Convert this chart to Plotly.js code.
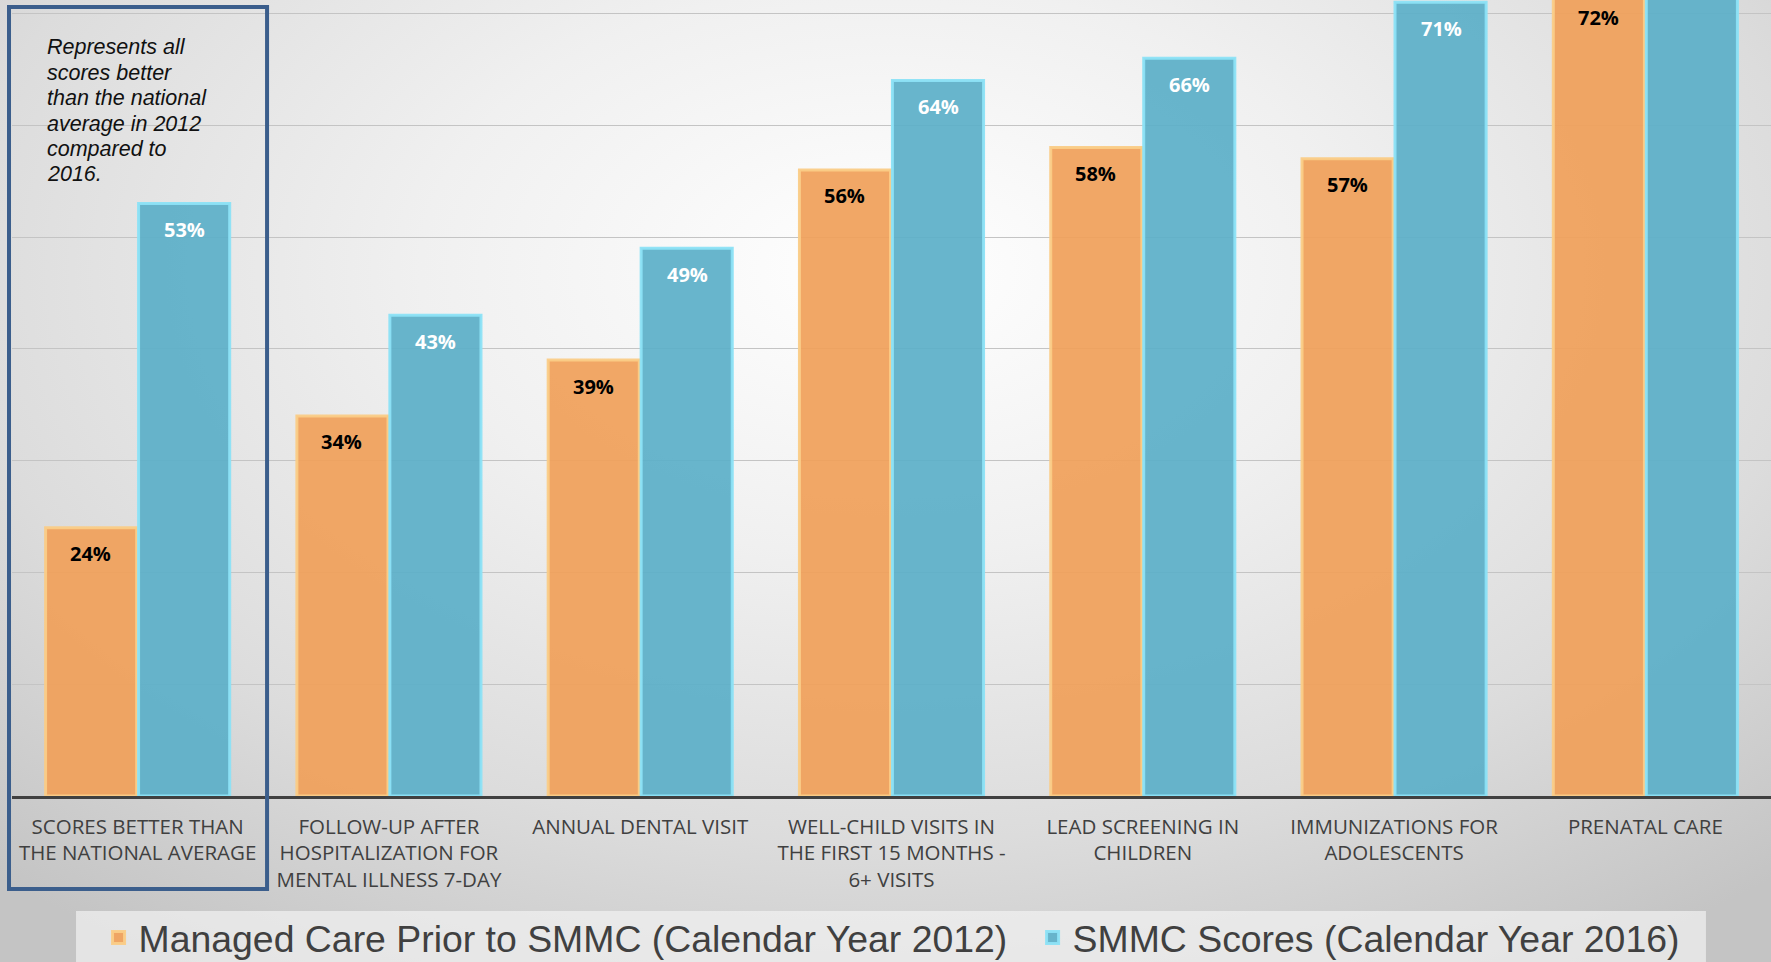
<!DOCTYPE html>
<html>
<head>
<meta charset="utf-8">
<script src="https://cdn.plot.ly/plotly-3.0.1.min.js"></script>
<style>
  html, body { margin: 0; padding: 0; }
  body {
    width: 1771px; height: 962px; overflow: hidden; position: relative;
    background: radial-gradient(ellipse 75% 85% at 50% 28%, #ffffff 0%, #f0f0f0 35%, #dcdcdc 70%, #c4c4c4 100%);
  }
  #chart { position: absolute; left: 0; top: -40px; width: 1771px; height: 1002px; }
</style>
</head>
<body>
<div id="chart"></div>
<script>
const categories = [
  "Scores better than the national average",
  "Follow-up after hospitalization for mental illness 7-day",
  "Annual dental visit",
  "Well-child visits in the first 15 months - 6+ visits",
  "Lead screening in children",
  "Immunizations for adolescents",
  "Prenatal care"
];
const tickLabels = [
  "SCORES BETTER THAN<br>THE NATIONAL AVERAGE",
  "FOLLOW-UP AFTER<br>HOSPITALIZATION FOR<br>MENTAL ILLNESS 7-DAY",
  "ANNUAL DENTAL VISIT",
  "WELL-CHILD VISITS IN<br>THE FIRST 15 MONTHS -<br>6+ VISITS",
  "LEAD SCREENING IN<br>CHILDREN",
  "IMMUNIZATIONS FOR<br>ADOLESCENTS",
  "PRENATAL CARE"
];
const series2012Name = "Managed Care Prior to SMMC (Calendar Year 2012)";
const series2016Name = "SMMC Scores (Calendar Year 2016)";
const values2012 = [24, 34, 39, 56, 58, 57, 72];
const values2016 = [53, 43, 49, 64, 66, 71, 80];
const noteLines = ["Represents all", "scores better", "than the national", "average in 2012", "compared to", "2016."];

const orange = "rgba(240,160,90,0.93)";
const orangeEdge = "rgba(250,204,135,0.95)";
const blue = "rgba(92,175,200,0.93)";
const blueEdge = "rgba(140,226,246,0.95)";

const traces = [
  {
    type: "bar", name: series2012Name, x: categories, y: values2012,
    marker: { color: orange, line: { color: orangeEdge, width: 3 } },
    legend: "legend", hoverinfo: "skip"
  },
  {
    type: "bar", name: series2016Name, x: categories, y: values2016,
    marker: { color: blue, line: { color: blueEdge, width: 3 } },
    legend: "legend2", hoverinfo: "skip"
  }
];

const BAR_SHIFT = 47;
const annotations = [];
categories.forEach((c, i) => {
  annotations.push({
    x: c, y: values2012[i], xref: "x", yref: "y",
    xshift: -BAR_SHIFT, yshift: -26, yanchor: "middle", showarrow: false,
    text: "<b>" + values2012[i] + "%</b>",
    font: { family: "Open Sans", size: 20, color: "#000000" }
  });
  annotations.push({
    x: c, y: values2016[i], xref: "x", yref: "y",
    xshift: BAR_SHIFT, yshift: -26, yanchor: "middle", showarrow: false,
    text: "<b>" + values2016[i] + "%</b>",
    font: { family: "Open Sans", size: 20, color: "#ffffff" }
  });
});
noteLines.forEach((line, i) => {
  annotations.push({
    xref: "paper", yref: "paper", x: 0.0185, y: 0.8955, yshift: -25.4 * i,
    xanchor: "left", yanchor: "middle", align: "left", showarrow: false,
    text: "<i>" + line + "</i>",
    font: { family: "Liberation Sans", size: 21.5, color: "#111111" }
  });
});

const legendFont = { family: "Liberation Sans", size: 37.4, color: "#404040" };
const layout = {
  width: 1771, height: 1002,
  margin: { l: 12, r: 0, t: 0, b: 166, autoexpand: false },
  paper_bgcolor: "rgba(0,0,0,0)",
  plot_bgcolor: "rgba(0,0,0,0)",
  barmode: "group",
  bargap: 0.26,
  bargroupgap: 0.02,
  showlegend: true,
  legend: {
    orientation: "h", x: 0.0492, xanchor: "left", y: -0.1325, yanchor: "top",
    bgcolor: "rgba(0,0,0,0)", font: legendFont, itemclick: false
  },
  legend2: {
    orientation: "h", x: 0.5802, xanchor: "left", y: -0.1325, yanchor: "top",
    bgcolor: "rgba(0,0,0,0)", font: legendFont, itemclick: false
  },
  xaxis: {
    tickmode: "array", tickvals: categories, ticktext: tickLabels,
    showline: true, linecolor: "#404040", linewidth: 3,
    ticks: "", showgrid: false, zeroline: false, ticklabelstandoff: 10,
    tickfont: { family: "Open Sans", size: 20.5, color: "#404040" }
  },
  yaxis: {
    range: [0, 74.78], dtick: 10, showticklabels: false,
    showgrid: true, gridcolor: "#c4c4c4", gridwidth: 1, zeroline: false,
    ticks: ""
  },
  shapes: [
    {
      type: "rect", xref: "paper", yref: "paper",
      x0: 0.0364, x1: 0.963, y0: -0.1376, y1: -0.25,
      line: { width: 0 }, fillcolor: "rgba(242,242,242,0.7)", layer: "below"
    },
    {
      type: "rect", xref: "paper", yref: "paper",
      x0: -0.0017, x1: 0.145, y0: -0.1112, y1: 0.9438,
      line: { color: "#3b5e8c", width: 4 }, fillcolor: "rgba(0,0,0,0)", layer: "above"
    }
  ],
  annotations: annotations
};

Plotly.newPlot("chart", traces, layout, { displayModeBar: false, staticPlot: true });
</script>
</body>
</html>
